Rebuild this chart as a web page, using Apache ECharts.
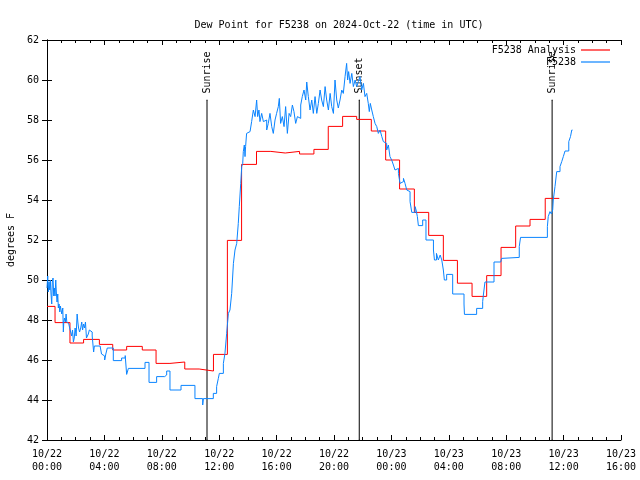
<!DOCTYPE html>
<html>
<head>
<meta charset="utf-8">
<script src="https://cdn.jsdelivr.net/npm/echarts@6/dist/echarts.min.js"></script>
<style>html,body{margin:0;padding:0;background:#fff}#c{width:640px;height:480px}</style>
</head>
<body>
<div id="c"></div>
<script>
// Hours since 2024-10-22 00:00 UTC
const xTickLabels = ['10/22\n00:00','10/22\n04:00','10/22\n08:00','10/22\n12:00','10/22\n16:00','10/22\n20:00','10/23\n00:00','10/23\n04:00','10/23\n08:00','10/23\n12:00','10/23\n16:00'];
const yTicks = [42,44,46,48,50,52,54,56,58,60,62];

// Analysis (step series): [hour, dew point F] — value holds until next point
const analysisData = [[0,48.68],[0.56,47.87],[1.6,46.85],[2.55,47.03],[3.65,46.78],[4.58,46.5],[5.55,46.68],[6.64,46.5],[7.6,45.83],[8.57,45.9],[9.6,45.55],[10.6,45.45],[11.6,46.28],[12.57,51.98],[13.56,55.78],[14.6,56.43],[15.6,56.35],[16.6,56.43],[17.6,56.3],[18.6,56.53],[19.6,57.68],[20.6,58.18],[21.58,58.03],[22.6,57.45],[23.6,56.0],[24.57,54.55],[25.6,53.38],[26.6,52.23],[27.62,50.98],[28.6,49.84],[29.62,49.18],[30.64,50.22],[31.64,51.63],[32.66,52.7],[33.66,53.03],[34.72,54.08],[35.7,54.08]];

// Station observations F5238: [hour, dew point F]
const stationData = [[0.00,49.6],[0.05,50.2],[0.09,49.4],[0.14,49.9],[0.19,49.5],[0.23,50.0],[0.28,49.3],[0.33,48.8],[0.37,49.9],[0.42,50.1],[0.47,49.2],[0.51,49.6],[0.56,49.2],[0.61,50.0],[0.65,49.4],[0.70,48.9],[0.75,49.3],[0.79,48.6],[0.84,48.8],[0.89,48.4],[0.93,48.7],[0.98,48.5],[1.03,48.3],[1.10,48.6],[1.14,47.4],[1.17,47.9],[1.22,48.1],[1.28,47.9],[1.33,48.3],[1.38,47.9],[1.45,47.8],[1.52,47.85],[1.58,47.6],[1.65,47.4],[1.72,47.2],[1.78,47.5],[1.84,46.9],[1.90,47.1],[1.96,47.6],[2.03,47.2],[2.10,48.3],[2.15,47.9],[2.20,47.6],[2.27,47.4],[2.35,47.6],[2.42,47.9],[2.48,47.5],[2.55,47.8],[2.62,47.6],[2.68,47.9],[2.75,47.1],[2.82,47.0],[2.88,47.3],[2.95,47.5],[3.05,47.4],[3.15,47.2],[3.25,46.4],[3.30,46.7],[3.70,46.8],[3.75,46.5],[3.80,46.3],[3.90,46.2],[4.02,46.0],[4.10,46.3],[4.20,46.6],[4.62,45.97],[5.20,46.1],[5.45,46.22],[5.55,45.28],[5.67,45.58],[6.83,45.88],[7.11,44.88],[7.64,45.17],[8.20,45.25],[8.34,45.45],[8.57,44.5],[9.34,44.73],[10.31,44.07],[10.85,43.75],[10.90,44.07],[11.59,44.33],[11.82,44.67],[11.94,45.08],[12.01,45.33],[12.29,45.83],[12.40,46.33],[12.52,47.33],[12.64,48.33],[12.75,48.5],[12.87,49.33],[12.99,50.83],[13.10,51.5],[13.22,51.83],[13.33,52.83],[13.40,53.67],[13.50,54.83],[13.57,55.67],[13.64,55.83],[13.68,56.42],[13.75,56.75],[13.80,56.17],[13.84,56.67],[13.91,57.33],[14.03,57.42],[14.15,57.33],[14.26,57.92],[14.38,58.5],[14.50,58.17],[14.61,59.0],[14.68,58.17],[14.77,58.5],[14.84,57.92],[14.96,58.33],[15.08,57.92],[15.19,58.0],[15.31,57.5],[15.42,57.83],[15.54,58.33],[15.66,57.67],[15.77,57.33],[15.89,58.0],[16.00,58.33],[16.12,58.67],[16.19,59.08],[16.28,57.83],[16.40,58.17],[16.52,57.67],[16.63,58.67],[16.75,57.33],[16.87,58.33],[16.98,58.17],[17.10,58.75],[17.21,58.42],[17.33,57.83],[17.45,58.17],[17.56,58.08],[17.68,58.75],[17.79,59.17],[17.91,59.5],[18.03,59.0],[18.10,59.9],[18.21,59.17],[18.33,58.5],[18.45,59.0],[18.56,58.33],[18.68,59.17],[18.80,58.33],[18.91,58.83],[19.03,59.5],[19.14,59.0],[19.26,58.67],[19.38,59.67],[19.49,59.0],[19.61,58.5],[19.73,59.33],[19.84,58.67],[19.96,58.33],[20.07,60.0],[20.19,59.0],[20.30,58.6],[20.42,59.0],[20.54,59.5],[20.65,59.33],[20.77,60.17],[20.88,60.83],[20.95,60.0],[21.02,60.42],[21.12,59.83],[21.24,60.33],[21.35,59.67],[21.47,60.0],[21.58,59.67],[21.70,59.92],[21.81,60.17],[21.93,59.5],[22.05,59.83],[22.16,59.17],[22.28,59.33],[22.39,58.83],[22.46,58.42],[22.53,58.83],[22.63,58.5],[22.74,58.17],[22.86,57.83],[22.98,57.67],[23.09,57.33],[23.21,57.5],[23.33,57.17],[23.44,56.92],[23.56,56.83],[23.67,56.5],[23.79,56.75],[23.90,56.17],[24.02,56.0],[24.14,55.75],[24.25,55.5],[24.37,55.58],[24.49,55.33],[24.60,54.83],[24.72,54.92],[24.84,55.08],[24.95,54.83],[25.07,54.5],[25.19,54.42],[25.30,53.92],[25.42,53.38],[25.65,53.67],[25.72,53.5],[25.81,53.17],[25.88,52.72],[26.18,53.0],[26.41,52.0],[26.93,51.5],[27.00,51.0],[27.14,51.33],[27.27,51.0],[27.40,51.25],[27.51,51.0],[27.62,50.5],[27.69,50.0],[27.85,50.28],[28.27,49.3],[29.06,48.8],[29.09,48.28],[29.94,48.58],[30.36,48.92],[30.41,49.25],[30.52,49.9],[31.15,50.9],[31.62,51.0],[31.68,51.08],[31.80,51.13],[32.91,51.67],[33.00,52.13],[34.87,52.67],[34.93,53.17],[35.05,53.42],[35.15,53.3],[35.24,53.5],[35.28,54.0],[35.40,54.67],[35.52,55.42],[35.75,55.67],[35.87,55.92],[35.98,56.17],[36.10,56.45],[36.36,56.92],[36.48,57.17],[36.57,57.5],[36.62,57.5]];

// Sun events (hours since start) and marker line span
const eventNames = ['Sunrise','Sunset','Sunrise'];
const eventHours = [11.15, 21.76, 35.2];
const eventLineRange = [42, 59];

const FONT = 'DejaVu Sans Mono';
const chart = echarts.init(document.getElementById('c'), null, {renderer:'canvas'});

const eventSeries = eventHours.map((t, i) => ({
  name: 'ev' + i,
  type: 'line',
  data: [[t, eventLineRange[0]], {value:[t, eventLineRange[1]], label:{show:true}}],
  symbol: 'circle', symbolSize: 1,
  itemStyle: {color:'#000'},
  lineStyle: {color:'#000', width:1},
  label: {show:false, formatter: eventNames[i], position:'top', distance:6, rotate:90, align:'left', verticalAlign:'middle', fontFamily:FONT, fontSize:10, color:'#000'},
  silent: true, z: 1
}));

const axisCommon = {
  min: 0, max: 40, interval: 4, type: 'value',
  axisLine: {show:true, lineStyle:{color:'#000', width:1}},
  axisTick: {show:true, inside:true, length:5, lineStyle:{color:'#000'}},
  minorTick: {show:true, splitNumber:4, length:3, lineStyle:{color:'#000'}},
  splitLine: {show:false}
};

chart.setOption({
  animation: false,
  backgroundColor: '#fff',
  title: {
    text: 'Dew Point for F5238 on 2024-Oct-22 (time in UTC)',
    left: 334, top: 15, textAlign: 'center',
    textStyle: {fontFamily:FONT, fontSize:10, fontWeight:'normal', color:'#000'}
  },
  legend: [
    {data:['F5238 Analysis'], right:30, top:44, orient:'vertical', align:'right', padding:0, icon:'rect', itemWidth:29, itemHeight:1.2,
     textStyle:{fontFamily:FONT, fontSize:10, color:'#000', lineHeight:12}},
    {data:['F5238'], right:30, top:56, orient:'vertical', align:'right', padding:0, icon:'rect', itemWidth:29, itemHeight:1.2,
     textStyle:{fontFamily:FONT, fontSize:10, color:'#000', lineHeight:12}}
  ],
  grid: {left:47, right:19, top:40, bottom:40, containLabel:false, outerBoundsMode:'none'},
  xAxis: [
    Object.assign({}, axisCommon, {
      position:'bottom',
      axisLabel: {show:true, margin:8, fontFamily:FONT, fontSize:10, color:'#000', lineHeight:13,
        formatter: v => xTickLabels[Math.round(v/4)]}
    }),
    Object.assign({}, axisCommon, {position:'top', axisLabel:{show:false}})
  ],
  yAxis: [
    {type:'value', min:yTicks[0], max:yTicks[yTicks.length-1], interval:2, position:'left',
     name:'degrees F', nameLocation:'middle', nameGap:31, nameRotate:90,
     nameTextStyle:{fontFamily:FONT, fontSize:10, color:'#000'},
     axisLine:{show:true, lineStyle:{color:'#000'}},
     axisTick:{show:true, inside:true, length:5, lineStyle:{color:'#000'}},
     axisLabel:{margin:8, fontFamily:FONT, fontSize:10, color:'#000'},
     splitLine:{show:false}},
    {type:'value', min:yTicks[0], max:yTicks[yTicks.length-1], interval:2, position:'right',
     axisLine:{show:true, lineStyle:{color:'#000'}},
     axisTick:{show:true, inside:true, length:5, lineStyle:{color:'#000'}},
     axisLabel:{show:false}, splitLine:{show:false}}
  ],
  series: [
    ...eventSeries,
    {name:'F5238 Analysis', type:'line', step:'end', data:analysisData, showSymbol:false, symbol:'none',
     lineStyle:{color:'#ff0000', width:1}, itemStyle:{color:'#ff0000'}, z:2},
    {name:'F5238', type:'line', step:'end', data:stationData, showSymbol:false, symbol:'none',
     lineStyle:{color:'#0a84ff', width:1}, itemStyle:{color:'#0a84ff'}, z:3}
  ]
});
</script>
</body>
</html>
